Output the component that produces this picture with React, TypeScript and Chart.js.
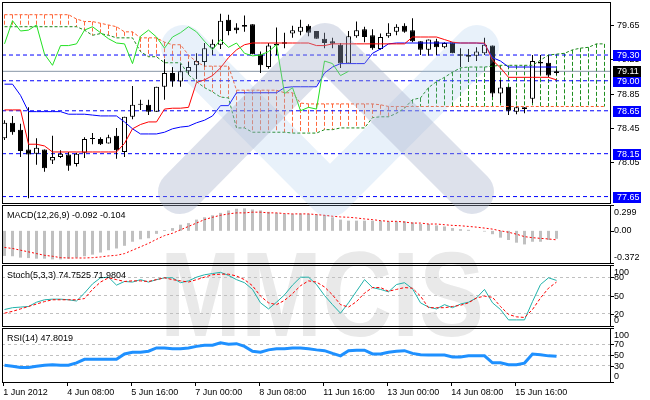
import React, { useEffect, useRef } from "react";
import { Chart, registerables } from "chart.js";
Chart.register(...registerables);

const FONT = "'Liberation Sans', Arial, sans-serif";
const X_MIN = -0.3125;
const X_MAX = 75.6875;

const timeTickSlots = [0, 8, 16, 24, 32, 40, 48, 56, 64];
const timeTickLabels = ["1 Jun 2012", "4 Jun 08:00", "5 Jun 16:00", "7 Jun 00:00", "8 Jun 08:00", "11 Jun 16:00", "13 Jun 00:00", "14 Jun 08:00", "15 Jun 16:00"];

const opens = [78.33, 78.51, 78.43, 78.20, 78.15, 78.20, 78.07, 78.11, 78.14, 78.03,
  78.16, 78.32, 78.32, 78.27, 78.36, 78.17, 78.58, 78.72, 78.72, 78.64,
  78.93, 79.09, 78.99, 79.11, 79.18, 79.22, 79.38, 79.42, 79.71, 79.62,
  79.63, 79.66, 79.31, 79.16, 79.43, 79.45, 79.55, 79.57, 79.64, 79.58,
  79.49, 79.46, 79.42, 79.20, 79.52, 79.60, 79.53, 79.37, 79.52, 79.57,
  79.64, 79.59, 79.46, 79.36, 79.46, 79.39, 79.45, 79.31, 79.28, 79.29,
  79.32, 79.41, 78.85, 78.93, 78.64, 78.69, 78.79, 79.22, 79.21, 79.09];
const highs = [78.54, 78.59, 78.50, 78.69, 78.33, 78.20, 78.36, 78.19, 78.17, 78.16,
  78.34, 78.39, 78.34, 78.37, 78.45, 78.58, 78.94, 78.78, 78.78, 78.93,
  79.25, 79.16, 79.20, 79.22, 79.32, 79.44, 79.48, 79.78, 79.77, 79.67,
  79.76, 79.66, 79.34, 79.44, 79.62, 79.56, 79.64, 79.71, 79.66, 79.58,
  79.56, 79.50, 79.44, 79.58, 79.69, 79.63, 79.60, 79.55, 79.67, 79.66,
  79.67, 79.73, 79.46, 79.48, 79.49, 79.45, 79.45, 79.38, 79.37, 79.39,
  79.50, 79.41, 79.01, 78.93, 78.71, 78.69, 79.30, 79.30, 79.30, 79.13];
const lows = [78.31, 78.37, 78.11, 77.63, 78.02, 77.94, 78.03, 78.10, 77.95, 78.00,
  78.10, 78.26, 78.25, 78.27, 78.09, 78.11, 78.55, 78.66, 78.60, 78.64,
  78.78, 78.93, 78.93, 79.07, 79.02, 79.16, 79.30, 79.37, 79.53, 79.55,
  79.57, 79.31, 79.09, 79.14, 79.30, 79.38, 79.50, 79.53, 79.52, 79.49,
  79.38, 79.38, 79.15, 79.20, 79.50, 79.45, 79.36, 79.36, 79.50, 79.53,
  79.56, 79.45, 79.30, 79.29, 79.30, 79.38, 79.32, 79.16, 79.22, 79.23,
  79.30, 78.81, 78.74, 78.60, 78.61, 78.62, 78.74, 79.07, 79.04, 79.07];
const closes = [78.51, 78.40, 78.18, 78.14, 78.22, 77.98, 78.11, 78.15, 78.01, 78.15,
  78.32, 78.33, 78.26, 78.34, 78.19, 78.58, 78.72, 78.73, 78.64, 78.93,
  79.09, 78.99, 79.11, 79.16, 79.23, 79.38, 79.43, 79.70, 79.58, 79.59,
  79.65, 79.31, 79.18, 79.41, 79.41, 79.43, 79.59, 79.63, 79.56, 79.49,
  79.44, 79.43, 79.20, 79.52, 79.59, 79.51, 79.38, 79.51, 79.56, 79.63,
  79.57, 79.46, 79.36, 79.48, 79.39, 79.44, 79.32, 79.29, 79.30, 79.34,
  79.42, 78.85, 78.92, 78.65, 78.69, 78.67, 79.23, 79.20, 79.06, 79.11];

const tenkan = [78.66, 78.66, 78.66, 78.26, 78.26, 78.24, 78.17, 78.17, 78.17, 78.17,
  78.17, 78.17, 78.17, 78.17, 78.17, 78.27, 78.44, 78.49, 78.52, 78.52,
  78.67, 78.68, 78.68, 78.69, 78.98, 79.01, 79.06, 79.15, 79.27, 79.36,
  79.42, 79.44, 79.44, 79.44, 79.44, 79.44, 79.44, 79.44, 79.44, 79.41,
  79.41, 79.43, 79.43, 79.43, 79.43, 79.43, 79.43, 79.43, 79.43, 79.43,
  79.43, 79.51, 79.51, 79.51, 79.51, 79.48, 79.45, 79.44, 79.44, 79.44,
  79.44, 79.24, 79.15, 79.04, 79.04, 79.04, 79.04, 79.04, 79.04, 79.01];
const kijun = [78.96, 78.96, 78.83, 78.64, 78.64, 78.64, 78.64, 78.64, 78.61, 78.61,
  78.61, 78.60, 78.59, 78.59, 78.59, 78.52, 78.44, 78.38, 78.38, 78.38,
  78.40, 78.44, 78.46, 78.47, 78.51, 78.54, 78.59, 78.71, 78.71, 78.86,
  78.86, 78.86, 78.86, 78.86, 78.86, 78.92, 78.93, 78.93, 78.93, 78.93,
  79.09, 79.16, 79.20, 79.20, 79.20, 79.20, 79.32, 79.37, 79.43, 79.44,
  79.44, 79.44, 79.44, 79.44, 79.44, 79.44, 79.44, 79.44, 79.44, 79.44,
  79.43, 79.27, 79.23, 79.16, 79.16, 79.16, 79.16, 79.16, 79.16, 79.16];
const senkouA = [79.77, 79.77, 79.77, 79.77, 79.77, 79.77, 79.77, 79.77, 79.77, 79.72,
  79.69, 79.69, 79.67, 79.65, 79.63, 79.57, 79.57, 79.50, 79.50, 79.50,
  79.45, 79.42, 79.42, 79.30, 79.22, 79.17, 79.17, 79.17, 79.17, 78.89,
  78.89, 78.89, 78.89, 78.89, 78.89, 78.86, 78.86, 78.74, 78.73, 78.73,
  78.73, 78.73, 78.73, 78.73, 78.73, 78.73, 78.73, 78.72, 78.70, 78.70,
  78.70, 78.70, 78.70, 78.70, 78.70, 78.70, 78.70, 78.70, 78.70, 78.70,
  78.70, 78.70, 78.70, 78.70, 78.70, 78.70, 78.70, 78.70, 78.70, 78.70,
  78.70, 78.70, 78.70, 78.70, 78.70, 78.70];
const senkouB = [79.63, 79.63, 79.63, 79.63, 79.63, 79.63, 79.63, 79.63, 79.63, 79.63,
  79.59, 79.53, 79.55, 79.53, 79.50, 79.50, 79.50, 79.34, 79.28, 79.28,
  79.21, 79.21, 79.21, 79.07, 78.99, 78.92, 78.87, 78.81, 78.80, 78.45,
  78.45, 78.40, 78.40, 78.40, 78.40, 78.40, 78.39, 78.39, 78.39, 78.39,
  78.43, 78.43, 78.45, 78.45, 78.45, 78.45, 78.57, 78.58, 78.58, 78.62,
  78.68, 78.78, 78.80, 78.92, 78.99, 79.04, 79.10, 79.15, 79.16, 79.16,
  79.16, 79.17, 79.18, 79.18, 79.18, 79.18, 79.18, 79.24, 79.30, 79.31,
  79.32, 79.36, 79.38, 79.39, 79.43, 79.43];
const chikouShift = 26;

const priceTicks = [79.65, 79.25, 78.85, 78.45, 78.05];
const priceLevels = [79.30, 79.00, 78.65, 78.15, 77.65];
const lastPrice = 79.11;

const macdHist = [-0.290, -0.294, -0.310, -0.315, -0.322, -0.322, -0.330, -0.330, -0.322, -0.310,
  -0.294, -0.275, -0.251, -0.224, -0.204, -0.173, -0.126, -0.098, -0.086, -0.035,
  0.010, 0.032, 0.071, 0.090, 0.130, 0.157, 0.180, 0.208, 0.236, 0.256,
  0.260, 0.247, 0.236, 0.220, 0.208, 0.197, 0.197, 0.200, 0.197, 0.190,
  0.180, 0.157, 0.130, 0.118, 0.118, 0.118, 0.118, 0.118, 0.110, 0.110,
  0.110, 0.098, 0.079, 0.079, 0.063, 0.051, 0.032, 0.020, 0.012, 0.000,
  -0.008, -0.039, -0.079, -0.106, -0.137, -0.157, -0.126, -0.126, -0.106, -0.092];
const macdSignal = [-0.192, -0.204, -0.224, -0.243, -0.263, -0.283, -0.294, -0.310, -0.314, -0.314,
  -0.314, -0.310, -0.302, -0.290, -0.283, -0.263, -0.224, -0.185, -0.145, -0.098,
  -0.055, -0.028, 0.012, 0.051, 0.090, 0.130, 0.157, 0.180, 0.196, 0.208,
  0.208, 0.216, 0.216, 0.208, 0.208, 0.200, 0.196, 0.196, 0.196, 0.188,
  0.180, 0.169, 0.161, 0.157, 0.149, 0.138, 0.130, 0.118, 0.110, 0.110,
  0.102, 0.090, 0.090, 0.079, 0.079, 0.071, 0.063, 0.059, 0.051, 0.043,
  0.032, 0.020, 0.000, -0.016, -0.039, -0.067, -0.079, -0.087, -0.094, -0.104];
const stochK = [27, 30, 31, 32, 39, 43, 44, 44, 43, 41,
  54, 69, 79, 80, 67, 73, 72, 76, 72, 76,
  79, 79, 71, 74, 80, 84, 86, 88, 83, 76,
  71, 60, 38, 28, 39, 51, 67, 80, 80, 68,
  50, 35, 21, 38, 57, 76, 63, 60, 56, 68,
  71, 61, 38, 31, 28, 35, 30, 36, 39, 46,
  60, 38, 27, 10, 10, 10, 40, 68, 79, 74.75];
const stochD = [21, 24, 28, 32, 36, 40, 43, 43, 43, 43,
  45, 60, 72, 79, 76, 73, 74, 74, 73, 76,
  79, 76, 74, 72, 76, 80, 84, 85, 85, 82,
  76, 66, 49, 38, 35, 42, 53, 66, 74, 72,
  64, 51, 35, 31, 40, 54, 63, 63, 57, 60,
  63, 62, 49, 30, 30, 30, 32, 34, 38, 46,
  49, 47, 32, 19, 15, 14, 27, 46, 62, 71.98];
const rsi = [31, 29, 27, 27, 29, 31, 32, 31, 31, 35.5,
  42, 42, 42, 42, 42, 52, 55, 55, 57, 63,
  63, 61.5, 61.5, 63, 66, 68, 68, 72.6, 70, 71,
  66, 57, 55, 59.5, 61.5, 61.5, 63, 63, 61.5, 59.5,
  58, 53, 48.4, 58, 59, 59, 52, 52, 55, 57,
  58, 53, 50.4, 50, 50, 50, 46.4, 46.4, 48.4, 48.4,
  48.4, 35.5, 35.5, 32, 32, 35, 51.7, 50.5, 48.4, 47.8];

type Lbl = { value: number; text: string; dy?: number; tick?: boolean; bg?: string; fg?: string };

const pts = (arr: number[], start = 0) => arr.map((v, i) => ({ x: i + start, y: v }));
const hline = (v: number) => [{ x: X_MIN, y: v }, { x: X_MAX, y: v }];

// vertical cloud hatch: one segment per slot, separated by gaps
function hatch(upperIsA: boolean) {
  const out: { x: number; y: number | null }[] = [];
  senkouA.forEach((a, i) => {
    const b = senkouB[i];
    if ((a >= b) === upperIsA) {
      out.push({ x: i, y: Math.max(a, b) }, { x: i, y: Math.min(a, b) }, { x: i, y: null });
    }
  });
  return out;
}

function decorPlugin(labels: Lbl[], title: string | null, labelX: number) {
  return {
    id: "decor",
    afterDraw(chart: any) {
      const { ctx, chartArea: a } = chart;
      const ys = chart.scales.y;
      ctx.save();
      ctx.strokeStyle = "#000";
      ctx.lineWidth = 1;
      ctx.strokeRect(a.left + 0.5, a.top + 0.5, a.right - a.left, a.bottom - a.top);
      ctx.font = `9px ${FONT}`;
      ctx.textBaseline = "middle";
      ctx.textAlign = "left";
      for (const l of labels) {
        const py = Math.round(ys.getPixelForValue(l.value));
        if (l.tick) {
          ctx.strokeStyle = "#000";
          ctx.beginPath();
          ctx.moveTo(a.right, py + 0.5);
          ctx.lineTo(a.right + 4, py + 0.5);
          ctx.stroke();
        }
        const ty = py + (l.dy || 0);
        if (l.bg) {
          ctx.fillStyle = l.bg;
          ctx.fillRect(a.right + 3, ty - 5, 28, 11);
          ctx.fillStyle = l.fg || "#fff";
        } else {
          ctx.fillStyle = "#000";
        }
        ctx.fillText(l.text, a.right + labelX, ty + 1);
      }
      if (title) {
        ctx.fillStyle = "#000";
        ctx.fillText(title, a.left + 5, a.top + 11);
      }
      ctx.restore();
    },
  };
}

function yAxis(min: number, max: number, grid: number[] | null) {
  return {
    position: "right",
    min,
    max,
    afterFit: (s: any) => { s.width = 40; },
    afterBuildTicks: (s: any) => { s.ticks = (grid || []).map((v) => ({ value: v })); },
    ticks: { display: false },
    grid: grid
      ? { display: true, drawOnChartArea: true, drawTicks: false, color: "#c0c0c0", lineWidth: 1 }
      : { display: false },
    border: { display: false, dash: [3, 3] },
  };
}

function baseOptions(padding: any, y: any, x?: any) {
  return {
    animation: false,
    responsive: false,
    maintainAspectRatio: false,
    events: [],
    layout: { padding },
    plugins: { legend: { display: false }, tooltip: { enabled: false } },
    scales: {
      x: x || { type: "linear", min: X_MIN, max: X_MAX, offset: false, display: false },
      y,
    },
  };
}

export default function App() {
  const mainRef = useRef<HTMLCanvasElement>(null);
  const macdRef = useRef<HTMLCanvasElement>(null);
  const stochRef = useRef<HTMLCanvasElement>(null);
  const rsiRef = useRef<HTMLCanvasElement>(null);

  useEffect(() => {
    const charts: Chart[] = [];
    const slots = closes.map((_, i) => i);

    const mainLabels: Lbl[] = [
      ...priceTicks.map((v) => ({ value: v, text: v.toFixed(2), tick: true })),
      ...priceLevels.map((v) => ({ value: v, text: v.toFixed(2), bg: "#0000ff", fg: "#fff" })),
      { value: lastPrice, text: lastPrice.toFixed(2), bg: "#000", fg: "#fff" },
    ];

    charts.push(new Chart(mainRef.current!, {
      type: "bar",
      data: {
        datasets: [
          { type: "line", data: hatch(true), borderColor: "#ff6a3d", borderWidth: 1, borderDash: [4, 2], pointRadius: 0, spanGaps: false, order: 10 },
          { type: "line", data: hatch(false), borderColor: "#1f8f1f", borderWidth: 1, borderDash: [4, 2], pointRadius: 0, spanGaps: false, order: 10 },
          ...priceLevels.map((v) => ({
            type: "line", data: hline(v), borderColor: "#0000ff", borderWidth: 1, borderDash: [4, 3], pointRadius: 0, order: 9,
          })),
          { type: "line", data: hline(lastPrice), borderColor: "#8796a6", borderWidth: 1, pointRadius: 0, order: 9 },
          {
            type: "bar",
            data: slots.map((i) => ({ x: i, y: [lows[i], highs[i]] })),
            backgroundColor: "#000",
            barThickness: 1,
            inflateAmount: 0,
            grouped: false,
            order: 8,
          },
          {
            type: "bar",
            data: slots.map((i) => ({ x: i, y: [opens[i], closes[i]] })),
            backgroundColor: slots.map((i) => (closes[i] >= opens[i] ? "#fff" : "#000")),
            borderColor: "#000",
            borderWidth: 1,
            borderSkipped: false,
            barThickness: 5,
            minBarLength: 1,
            inflateAmount: 0,
            grouped: false,
            order: 7,
          },
          { type: "line", data: pts(senkouA), borderColor: "#ff5a2a", borderWidth: 1, borderDash: [3, 2], pointRadius: 0, order: 6 },
          { type: "line", data: pts(senkouB), borderColor: "#1a8a1a", borderWidth: 1, borderDash: [3, 2], pointRadius: 0, order: 6 },
          { type: "line", data: pts(closes.slice(chikouShift)), borderColor: "#22e022", borderWidth: 1, pointRadius: 0, order: 5 },
          { type: "line", data: pts(tenkan), borderColor: "#ff0000", borderWidth: 1, pointRadius: 0, order: 5 },
          { type: "line", data: pts(kijun), borderColor: "#0000ff", borderWidth: 1, pointRadius: 0, order: 5 },
        ] as any,
      },
      options: baseOptions({ left: 2, top: 2, bottom: 1, right: 0 }, yAxis(77.575, 79.918, null)) as any,
      plugins: [decorPlugin(mainLabels, null, 7)],
    }));

    charts.push(new Chart(macdRef.current!, {
      type: "bar",
      data: {
        datasets: [
          { type: "bar", data: pts(macdHist), backgroundColor: "#c0c0c0", barThickness: 3, inflateAmount: 0, grouped: false, order: 2 },
          { type: "line", data: pts(macdSignal), borderColor: "#ff0000", borderWidth: 1, borderDash: [2, 2], pointRadius: 0, order: 1 },
        ] as any,
      },
      options: baseOptions({ left: 2, top: 1, bottom: 1, right: 0 }, yAxis(-0.372, 0.299, null)) as any,
      plugins: [decorPlugin([
        { value: 0.299, text: "0.299", dy: 7, tick: true },
        { value: 0, text: "0.00", dy: -1, tick: true },
        { value: -0.372, text: "-0.372", dy: -6, tick: true },
      ], `MACD(12,26,9) ${macdHist[macdHist.length - 1].toFixed(3)} ${macdSignal[macdSignal.length - 1].toFixed(3)}`, 4)],
    }));

    charts.push(new Chart(stochRef.current!, {
      type: "line",
      data: {
        datasets: [
          { data: pts(stochK), borderColor: "#20b2aa", borderWidth: 1, pointRadius: 0, order: 2 },
          { data: pts(stochD), borderColor: "#ff0000", borderWidth: 1, borderDash: [3, 2], pointRadius: 0, order: 1 },
        ] as any,
      },
      options: baseOptions({ left: 2, top: 1, bottom: 1, right: 0 }, yAxis(0, 100, [20, 50, 80])) as any,
      plugins: [decorPlugin([
        { value: 100, text: "100", dy: 7, tick: true },
        { value: 80, text: "80", tick: true },
        { value: 50, text: "50", tick: true },
        { value: 20, text: "20", tick: true },
        { value: 0, text: "0", dy: -6, tick: true },
      ], "Stoch(5,3,3) 74.7525 71.9804", 4)],
    }));

    charts.push(new Chart(rsiRef.current!, {
      type: "line",
      data: {
        datasets: [
          { data: pts(rsi), borderColor: "#1e90ff", borderWidth: 3, pointRadius: 0 },
        ] as any,
      },
      options: baseOptions({ left: 2, top: 1, bottom: 0, right: 0 }, yAxis(0, 100, [30, 50, 70]), {
        type: "linear",
        min: X_MIN,
        max: X_MAX,
        offset: false,
        position: "bottom",
        afterBuildTicks: (s: any) => { s.ticks = timeTickSlots.map((v) => ({ value: v - 0.15 })); },
        afterFit: (s: any) => { s.height = 18; },
        ticks: {
          callback: (_v: any, idx: number) => timeTickLabels[idx],
          align: "start",
          autoSkip: false,
          maxRotation: 0,
          minRotation: 0,
          font: { family: FONT, size: 9 },
          color: "#000",
          padding: 1,
        },
        grid: { drawOnChartArea: false, drawTicks: true, tickLength: 4, color: "#000" },
        border: { display: false },
      }) as any,
      plugins: [decorPlugin([
        { value: 100, text: "100", dy: 7, tick: true },
        { value: 70, text: "70", tick: true },
        { value: 50, text: "50", tick: true },
        { value: 30, text: "30", tick: true },
        { value: 0, text: "0", dy: -6, tick: true },
      ], "RSI(14) 47.8019", 4)],
    }));

    return () => charts.forEach((c) => c.destroy());
  }, []);

  const abs = (top: number): React.CSSProperties => ({ position: "absolute", left: 0, top });
  return (
    <div style={{ position: "absolute", left: 0, top: 0, width: 650, height: 400, background: "#fff", overflow: "hidden" }}>
      <div
        style={{
          position: "absolute", left: 160, top: 234, fontFamily: FONT, fontWeight: 700, fontSize: 120,
          lineHeight: "120px", color: "#e9e9e9", transform: "scaleX(0.81)", transformOrigin: "0 0", whiteSpace: "nowrap",
        }}
      >
        MMCIS
      </div>
      <canvas ref={mainRef} width={650} height={204} style={abs(0)} />
      <canvas ref={macdRef} width={650} height={60} style={abs(204)} />
      <canvas ref={stochRef} width={650} height={63} style={abs(264)} />
      <canvas ref={rsiRef} width={650} height={73} style={abs(327)} />
      <svg width={650} height={400} style={{ position: "absolute", left: 0, top: 0, pointerEvents: "none" }}>
        <g opacity={0.22} fill="none" stroke="rgb(150,190,230)" strokeWidth={44} strokeLinecap="round" strokeLinejoin="round">
          <polyline points="183,47 330,195 477,47" />
        </g>
        <g opacity={0.36} fill="none" stroke="rgb(162,173,200)" strokeWidth={44} strokeLinecap="round" strokeLinejoin="round">
          <polyline points="180,192 325,45 472,192" />
        </g>
      </svg>
    </div>
  );
}
